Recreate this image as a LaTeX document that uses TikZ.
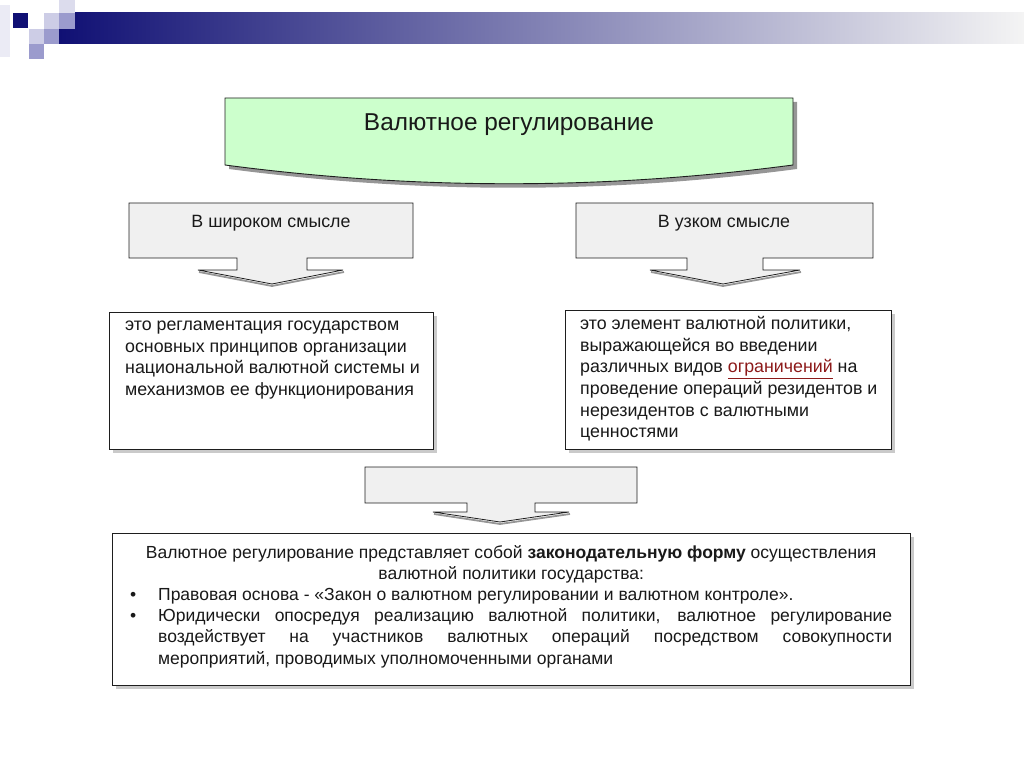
\documentclass[tikz,border=0pt]{standalone}
\usepackage{fontspec}
\setmainfont{Liberation Sans}
\usetikzlibrary{positioning,calc,shadows}
\definecolor{navy}{RGB}{16,16,116}
\definecolor{lavender}{RGB}{155,155,205}
\definecolor{palelavender}{RGB}{205,205,230}
\definecolor{bannergray}{RGB}{188,188,202}
\definecolor{bannerend}{RGB}{244,244,244}
\definecolor{titlegreen}{RGB}{204,255,204}
\definecolor{calloutgray}{RGB}{240,240,240}
\definecolor{edgegray}{RGB}{30,30,30}
\definecolor{shadowgray}{RGB}{150,150,150}
\definecolor{textdark}{RGB}{25,25,25}
\definecolor{linkred}{RGB}{140,25,25}
\tikzset{
  callout/.style={draw=edgegray, fill=calloutgray, line width=0.8pt},
  wingshadow/.style={draw=shadowgray, line width=1.8pt},
  defbox/.style={draw=edgegray, fill=white, line width=0.9pt, inner sep=0pt,
                 anchor=north west,
                 drop shadow={shadow xshift=4pt, shadow yshift=-4pt, fill=shadowgray}},
  deftext/.style={anchor=north west, align=left, inner sep=0pt, text=textdark,
                  font=\fontsize{17.8}{21.7}\selectfont},
  headtext/.style={anchor=base, inner sep=0pt, text=textdark,
                   font=\fontsize{17.8}{21}\selectfont},
  sumtext/.style={anchor=north west, inner sep=0pt, text=textdark, text width=762pt,
                  align=justify, font=\fontsize{17.5}{21.2}\selectfont},
}

\begin{document}
\begin{tikzpicture}[x=1pt, y=-1pt]
\useasboundingbox (0,0) rectangle (1024,767);

% ---------------- banner at the top ----------------
\fill[palelavender!40] (0,5) rectangle (10,57);
\shade[left color=navy, middle color=bannergray, right color=bannerend]
  (59,13) rectangle (1024,44);
\fill[navy] (13,13) rectangle (28,28);
\fill[palelavender] (44,13) rectangle (59,29);
\fill[palelavender!70] (59,0) rectangle (75,13);
\fill[lavender] (59,13) rectangle (75,29);
\fill[palelavender] (29,29) rectangle (44,44);
\fill[lavender] (44,29) rectangle (59,44);
\fill[lavender] (29,44) rectangle (44,59);

% ---------------- heading ----------------
\fill[shadowgray] (229,102) -- (797,102) -- (797,169)
  .. controls (607,194) and (419,194) .. (229,169) -- cycle;
\draw[fill=titlegreen, draw=edgegray, line width=0.9pt] (225,98) -- (793,98) -- (793,165)
  .. controls (603,190) and (415,190) .. (225,165) -- cycle;
\node[anchor=base, inner sep=0pt, text=textdark, font=\fontsize{24.4}{28}\selectfont]
  (title) at (509,131) {Валютное регулирование};

% ---------------- two meanings ----------------
\draw[wingshadow] (199,272) -- (272,286) -- (344,272);
\draw[callout] (129,203) -- (413,203) -- (413,258) -- (307,258) -- (307,270) -- (343,270)
  -- (272,284) -- (198,270) -- (237,270) -- (237,258) -- (129,258) -- cycle;
\node[headtext] (wide) at (271,228) {В широком смысле};

\draw[wingshadow] (651,272) -- (723,286) -- (801,272);
\draw[callout] (576,203) -- (873,203) -- (873,258) -- (763,258) -- (763,270) -- (800,270)
  -- (723,284) -- (650,270) -- (687,270) -- (687,258) -- (576,258) -- cycle;
\node[headtext] (narrow) at (724,228) {В узком смысле};

% definitions
\node[defbox, minimum width=324pt, minimum height=137pt] (widebox) at (109,312) {};
\node[deftext] (widedef) at (125,315)
  {\strut это регламентация государством\\
   основных принципов организации\\
   национальной валютной системы и\\
   механизмов ее функционирования};

\node[defbox, minimum width=326pt, minimum height=139pt] (narrowbox) at (565,310) {};
\node[deftext] (narrowdef) at (580,314)
  {\strut это элемент валютной политики,\\
   выражающейся во введении\\
   различных видов {\color{linkred}\underline{ограничений}} на\\
   проведение операций резидентов и\\
   нерезидентов с валютными\\
   ценностями};

% ---------------- summary ----------------
\draw[wingshadow] (434,514) -- (500,524) -- (570,514);
\draw[callout] (365,467) -- (637,467) -- (637,503) -- (535,503) -- (535,512) -- (569,512)
  -- (500,522) -- (433,512) -- (467,512) -- (467,503) -- (365,503) -- cycle;

\node[defbox, minimum width=798pt, minimum height=152pt] (sumbox) at (112,533) {};
\node[sumtext] (summary) at (130,543)
  {{\centering\strut Валютное регулирование представляет собой \textbf{законодательную форму} осуществления\\
   валютной политики государства:\par}
   \noindent\hangindent=28pt\hangafter=1\makebox[28pt][l]{•}Правовая основа - «Закон о валютном регулировании и валютном контроле».\par
   \noindent\hangindent=28pt\hangafter=1\makebox[28pt][l]{•}Юридически опосредуя реализацию валютной политики, валютное регулирование\linebreak
   воздействует на участников валютных операций посредством совокупности\linebreak
   мероприятий, проводимых уполномоченными органами\par};
\end{tikzpicture}
\end{document}
